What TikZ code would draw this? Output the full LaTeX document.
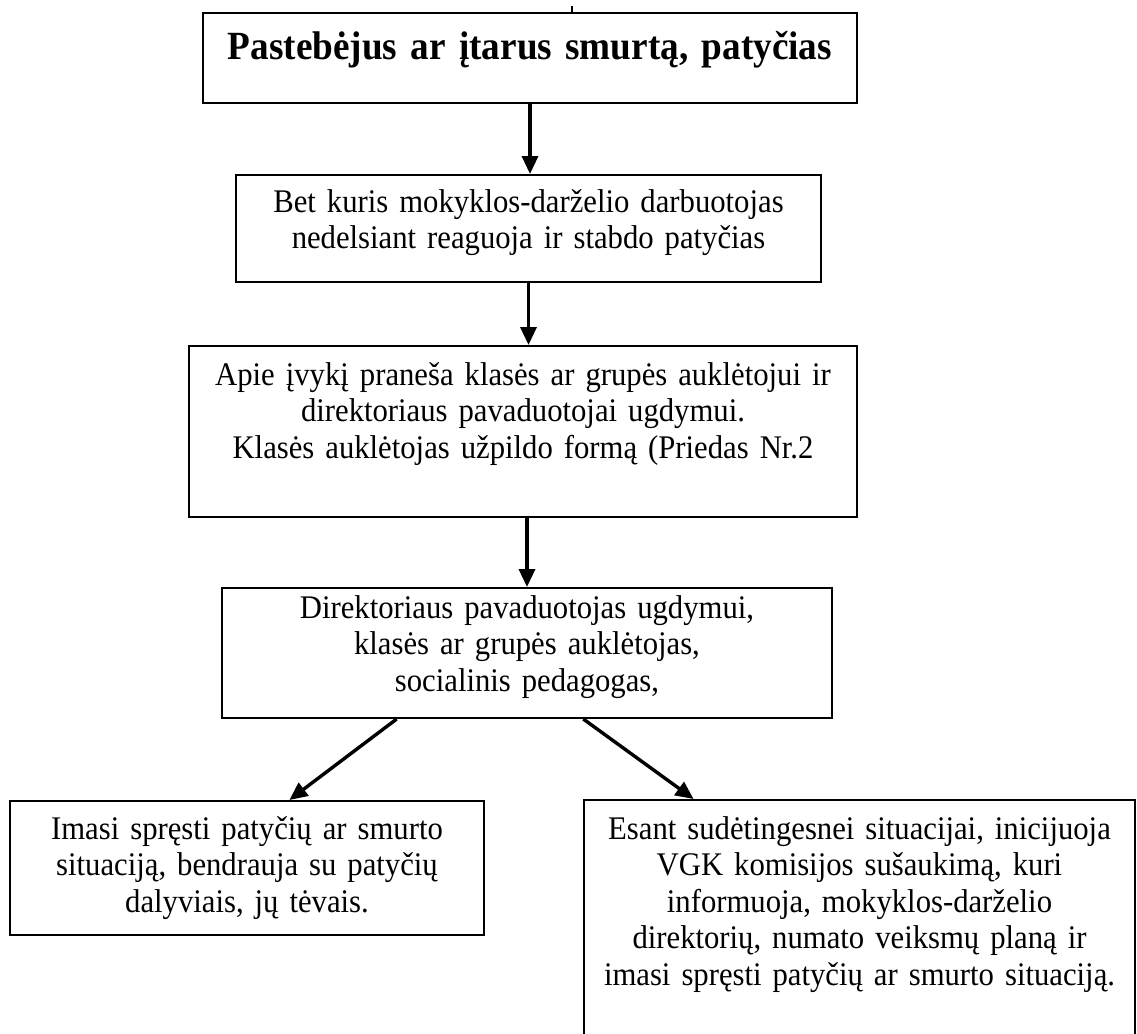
\documentclass[tikz,border=0pt]{standalone}
\usepackage{fontspec}
\setmainfont{Liberation Serif}[FakeStretch=0.93]
\usetikzlibrary{arrows.meta,calc}

\begin{document}
\begin{tikzpicture}[x=0.5pt, y=-0.5pt, >={Triangle[length=9pt,width=8pt]},
		box/.style={draw, line width=1pt, inner sep=0pt},
		txt/.style={align=center, inner sep=0pt, text width=#1, anchor=base,
			font=\fontsize{16.5}{18.3}\selectfont},
		arr/.style={->, line width=1.7pt}]
		\useasboundingbox (0,0) rectangle (1137,1034);
		\clip (0,0) rectangle (1137,1034);
		% boxes
		\node[box, minimum width=327pt, minimum height=45pt] (b1) at (530,58) {};
		\node[box, minimum width=292.5pt, minimum height=53.5pt] (b2) at (528.5,228.5) {};
		\node[box, minimum width=334pt, minimum height=85.5pt] (b3) at (523,431.5) {};
		\node[box, minimum width=305pt, minimum height=65pt] (b4) at (527,653) {};
		\node[box, minimum width=237pt, minimum height=67pt] (b5) at (247,868) {};
		\node[box, minimum width=275.5pt, minimum height=130pt] (b6) at (859.5,930) {};
		\draw[line width=0.8pt] (572,6) -- (572,13);
		% texts
		\node[txt=320pt, font=\fontsize{20}{22}\selectfont\bfseries] (t1) at ($(b1.north)+(0,47)$)
			{Pastebėjus ar įtarus smurtą, patyčias};
		\node[txt=290pt] (t2) at ($(b2.north)+(0,38)$)
			{Bet kuris mokyklos-darželio darbuotojas\\ nedelsiant reaguoja ir stabdo patyčias};
		\node[txt=330pt] (t3) at ($(b3.north)+(0,40)$)
			{Apie įvykį praneša klasės ar grupės auklėtojui ir\\ direktoriaus pavaduotojai ugdymui.\\ Klasės auklėtojas užpildo formą (Priedas Nr.2};
		\node[txt=300pt] (t4) at ($(b4.north)+(0,31)$)
			{Direktoriaus pavaduotojas ugdymui,\\ klasės ar grupės auklėtojas,\\ socialinis pedagogas,};
		\node[txt=235pt] (t5) at ($(b5.north)+(0,39)$)
			{Imasi spręsti patyčių ar smurto\\ situaciją, bendrauja su patyčių\\ dalyviais, jų tėvais.};
		\node[txt=270pt] (t6) at ($(b6.north)+(0,40)$)
			{Esant sudėtingesnei situacijai, inicijuoja\\ VGK komisijos sušaukimą, kuri\\ informuoja, mokyklos-darželio\\ direktorių, numato veiksmų planą ir\\ imasi spręsti patyčių ar smurto situaciją.};
		% arrows
		\draw[arr] (b1.south) -- (b1.south |- b2.north);
		\draw[arr] (b2.south) -- (b2.south |- b3.north);
		\draw[arr] (b3.south -| b4.north) -- (b4.north);
		\draw[arr] ($(b4.south west)!0.287!(b4.south east)$) -- ($(b5.north west)!0.589!(b5.north east)$);
		\draw[arr] ($(b4.south west)!0.592!(b4.south east)$) -- ($(b6.north west)!0.2!(b6.north east)$);
	\end{tikzpicture}
\end{document}
